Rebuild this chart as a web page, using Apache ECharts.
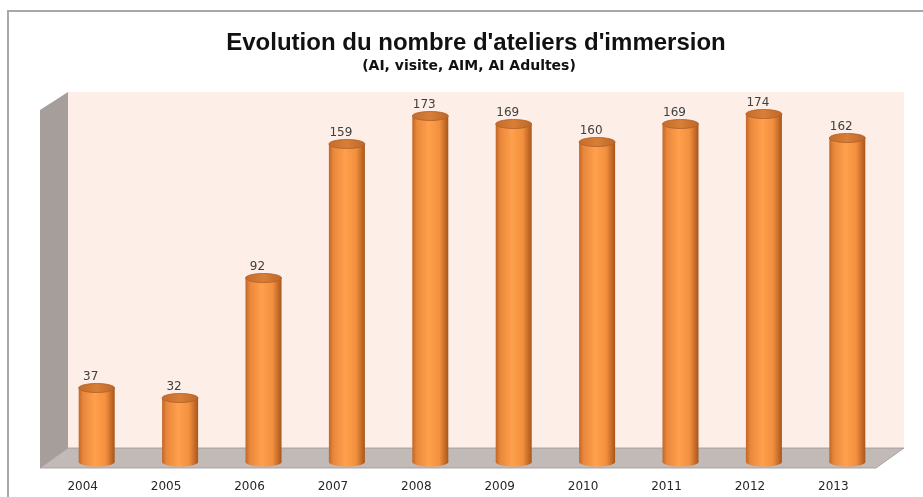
<!DOCTYPE html>
<html>
<head>
<meta charset="utf-8">
<script src="https://cdn.jsdelivr.net/npm/echarts@6/dist/echarts.min.js"></script>
<style>
  html, body { margin: 0; padding: 0; background: #fff; }
  #chart { width: 923px; height: 497px; }
</style>
</head>
<body>
<div id="chart"></div>
<script>
// données
const years = ['2004', '2005', '2006', '2007', '2008', '2009', '2010', '2011', '2012', '2013'];
const ateliers = [37, 32, 92, 159, 173, 169, 160, 169, 174, 162];

const chart = echarts.init(document.getElementById('chart'));

// corps du cylindre : foncé sur les bords, clair au centre
const bodyFill = () => new echarts.graphic.LinearGradient(0, 0, 1, 0, [
  { offset: 0, color: '#c06628' },
  { offset: 0.12, color: '#e8873a' },
  { offset: 0.45, color: '#ffa04d' },
  { offset: 0.75, color: '#f2903e' },
  { offset: 0.92, color: '#c26826' },
  { offset: 1, color: '#a5561c' }
]);

const renderCylinder = (params, api) => {
  const top = api.coord([api.value(0), api.value(1)]);
  const base = api.coord([api.value(0), 0]);
  const w = 36;
  const ry = 4.5;
  const cx = top[0];
  return {
    type: 'group',
    children: [
      {
        type: 'ellipse',
        shape: { cx: cx, cy: base[1], rx: w / 2, ry: ry },
        style: { fill: bodyFill() }
      },
      {
        type: 'rect',
        shape: { x: cx - w / 2, y: top[1], width: w, height: base[1] - top[1] },
        style: { fill: bodyFill() }
      },
      {
        type: 'ellipse',
        shape: { cx: cx, cy: top[1], rx: w / 2, ry: ry },
        style: {
          fill: new echarts.graphic.LinearGradient(0, 0, 1, 0, [
            { offset: 0, color: '#c46c2c' },
            { offset: 0.5, color: '#d87e36' },
            { offset: 1, color: '#bc662a' }
          ]),
          stroke: '#b06026',
          lineWidth: 0.8
        }
      },
      {
        type: 'text',
        style: {
          text: String(api.value(1)),
          x: cx - 6,
          y: top[1] - ry - 1,
          align: 'center',
          verticalAlign: 'bottom',
          fill: '#404040',
          font: '12px "DejaVu Sans"'
        }
      }
    ]
  };
};

const option = {
  animation: false,
  backgroundColor: '#ffffff',
  title: [
    {
      text: "Evolution du nombre d'ateliers d'immersion",
      left: 471,
      textAlign: 'center',
      top: 26,
      textStyle: { fontFamily: 'Liberation Sans', fontWeight: 'bold', fontSize: 24, color: '#111' }
    },
    {
      text: '(AI, visite, AIM, AI Adultes)',
      left: 464,
      textAlign: 'center',
      top: 54,
      textStyle: { fontFamily: 'DejaVu Sans', fontWeight: 'bold', fontSize: 14, color: '#111' }
    }
  ],
  graphic: [
    { type: 'polyline', shape: { points: [[8, 497], [8, 11], [923, 11]] },
      style: { stroke: '#a8a8a8', lineWidth: 2, fill: null }, z: 0 },
    { type: 'rect', shape: { x: 68, y: 92, width: 836, height: 356 },
      style: { fill: '#fdeee7' }, z: 0 },
    { type: 'polygon', shape: { points: [[40, 110], [68, 92], [68, 448], [40, 468]] },
      style: { fill: '#a59e9a' }, z: 0 },
    { type: 'polygon', shape: { points: [[68, 448], [904, 448], [876, 468], [40, 468]] },
      style: { fill: '#c2bab7', stroke: '#9e9894', lineWidth: 0.8 }, z: 0 }
  ],
  grid: { left: 55, right: 34, top: 92, bottom: 35 },
  xAxis: {
    type: 'category',
    data: years,
    axisLine: { show: false },
    axisTick: { show: false },
    axisLabel: {
      margin: 19,
      padding: [0, 28, 0, 0],
      color: '#262626',
      fontFamily: 'DejaVu Sans',
      fontSize: 12
    }
  },
  yAxis: { type: 'value', min: 0, max: 185, show: false, splitLine: { show: false } },
  series: [
    {
      type: 'custom',
      z: 10,
      renderItem: renderCylinder,
      encode: { x: 0, y: 1 },
      data: ateliers.map((v, i) => [i, v])
    }
  ]
};

chart.setOption(option);
</script>
</body>
</html>
